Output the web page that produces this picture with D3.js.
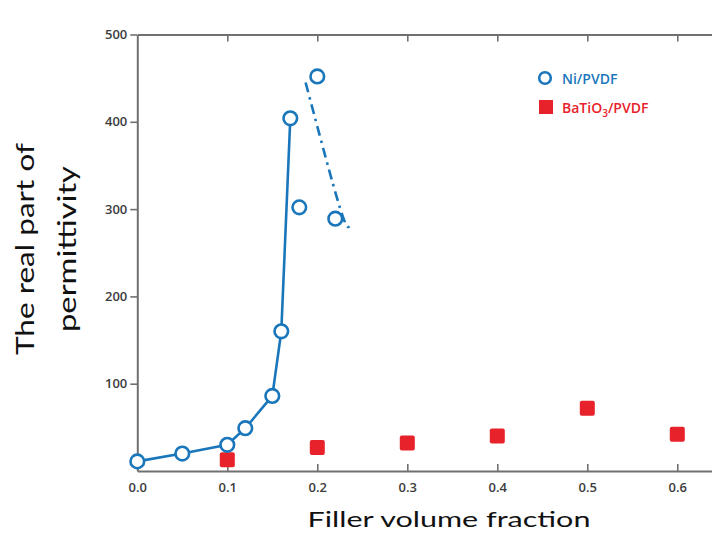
<!DOCTYPE html>
<html>
<head>
<meta charset="utf-8">
<script src="https://cdn.jsdelivr.net/npm/d3@7"></script>
<style>
  html, body { margin: 0; padding: 0; background: #fff; }
  svg { display: block; }
</style>
</head>
<body>
<div id="chart"></div>
<script>
// Ni/PVDF composite: filler fraction and real permittivity
const niFraction = [0, 0.05, 0.1, 0.12, 0.15, 0.16, 0.17, 0.18, 0.2, 0.22];
const niPermittivity = [11, 20, 30, 49, 86, 160, 404, 302, 452, 289];
// points joined by the solid percolation curve
const niSolidFraction = [0, 0.05, 0.1, 0.12, 0.15, 0.16, 0.17];
const niSolidPermittivity = [11, 20, 30, 49, 86, 160, 404];
// dash-dot guide beyond the threshold
const niGuideFraction = [0.187, 0.225, 0.236];
const niGuidePermittivity = [445, 302, 282];

// BaTiO3/PVDF composite
const batFraction = [0.1, 0.2, 0.3, 0.4, 0.5, 0.6];
const batPermittivity = [13, 27, 32, 40, 72, 42];

const xTicks = [0, 0.1, 0.2, 0.3, 0.4, 0.5, 0.6];
const yTicks = [100, 200, 300, 400, 500];
const yTickLabels = ["100", "200", "300", "400", "500"];

const W = 712, H = 539;
const blue = "#1a76bb", red = "#e8222a", axisGray = "#707070", tickText = "#3c3c3c";

const svg = d3.select("#chart").append("svg").attr("width", W).attr("height", H);

const x = d3.scaleLinear().domain([0, 0.7]).range([137.3, 767.3]);
const y = d3.scaleLinear().domain([0, 500]).range([471, 34.5]);

// frame: left, bottom and top axes
const axisBottomG = svg.append("g").attr("transform", `translate(0,${y(0)})`)
  .call(d3.axisBottom(x).tickValues(xTicks).tickFormat(d3.format(".1f")).tickSizeInner(-7).tickSizeOuter(0).tickPadding(12));
const axisTopG = svg.append("g").attr("transform", `translate(0,${y(500)})`)
  .call(d3.axisTop(x).tickValues(xTicks).tickFormat("").tickSizeInner(-7).tickSizeOuter(0));
const axisLeftG = svg.append("g").attr("transform", `translate(${x(0)},0)`)
  .call(d3.axisLeft(y).tickValues(yTicks).tickFormat((d, i) => yTickLabels[i]).tickSizeInner(7).tickSizeOuter(0).tickPadding(3));

[axisBottomG, axisTopG, axisLeftG].forEach(g => {
  g.select(".domain").attr("stroke", axisGray).attr("stroke-width", 2);
  g.selectAll(".tick line").attr("stroke", axisGray).attr("stroke-width", 1.6);
  g.selectAll(".tick text")
    .attr("fill", tickText)
    .style("font-family", "'Open Sans', sans-serif")
    .style("font-weight", 600)
    .style("font-size", "13px");
});
// the 0 tick at the top sits on the corner
axisTopG.selectAll(".tick").filter(d => d === 0).remove();
axisBottomG.selectAll(".tick").filter(d => d === 0).select("line").remove();

// solid Ni/PVDF curve
const solid = niSolidFraction.map((f, i) => [f, niSolidPermittivity[i]]);
svg.append("path")
  .datum(solid)
  .attr("fill", "none")
  .attr("stroke", blue)
  .attr("stroke-width", 2.6)
  .attr("d", d3.line().x(d => x(d[0])).y(d => y(d[1])));

// dash-dot guide
const guide = niGuideFraction.map((f, i) => [f, niGuidePermittivity[i]]);
svg.append("path")
  .datum(guide)
  .attr("fill", "none")
  .attr("stroke", blue)
  .attr("stroke-width", 2.6)
  .attr("stroke-dasharray", "10,5,2.5,5")
  .attr("d", d3.line().curve(d3.curveNatural).x(d => x(d[0])).y(d => y(d[1])));

// BaTiO3 squares
const sq = 15;
svg.append("g").selectAll("rect")
  .data(batFraction.map((f, i) => [f, batPermittivity[i]]))
  .join("rect")
  .attr("x", d => x(d[0]) - sq / 2)
  .attr("y", d => y(d[1]) - sq / 2)
  .attr("width", sq).attr("height", sq)
  .attr("rx", 2)
  .attr("fill", red);

// Ni circles
svg.append("g").selectAll("circle")
  .data(niFraction.map((f, i) => [f, niPermittivity[i]]))
  .join("circle")
  .attr("cx", d => x(d[0]))
  .attr("cy", d => y(d[1]))
  .attr("r", 6.8)
  .attr("fill", "#fff")
  .attr("stroke", blue)
  .attr("stroke-width", 2.6);

// legend
const leg = svg.append("g").style("font-family", "'Open Sans', sans-serif").style("font-size", "14px").style("font-weight", 600);
leg.append("circle").attr("cx", 545).attr("cy", 78).attr("r", 5.8)
  .attr("fill", "#fff").attr("stroke", blue).attr("stroke-width", 2.6);
leg.append("text").attr("x", 562).attr("y", 83.5).attr("fill", blue).text("Ni/PVDF");
leg.append("rect").attr("x", 539).attr("y", 100).attr("width", 14).attr("height", 14).attr("fill", red);
const t2 = leg.append("text").attr("x", 562).attr("y", 112.5).attr("fill", red);
t2.append("tspan").text("BaTiO");
t2.append("tspan").attr("dy", 4).style("font-size", "10px").text("3");
t2.append("tspan").attr("dy", -4).text("/PVDF");

// axis titles: wide lettering, scaled along the reading direction to a set length
const titleFont = "Lato, 'Open Sans', sans-serif";
function stretchedTitle(parent, label, size, length, transform) {
  const g = parent.append("g").attr("transform", transform);
  const t = g.append("text")
    .attr("text-anchor", "middle")
    .style("font-family", titleFont).style("font-size", size + "px").attr("fill", "#111")
    .text(label);
  const natural = t.node().getComputedTextLength();
  t.attr("transform", `scale(${length / natural},1)`);
  return g;
}
stretchedTitle(svg, "Filler volume fraction", 22, 283, "translate(449,527)");
stretchedTitle(svg, "The real part of", 25, 212, "translate(34,249) rotate(-90)");
stretchedTitle(svg, "permittivity", 25, 166, "translate(76,249) rotate(-90)");
</script>
</body>
</html>
